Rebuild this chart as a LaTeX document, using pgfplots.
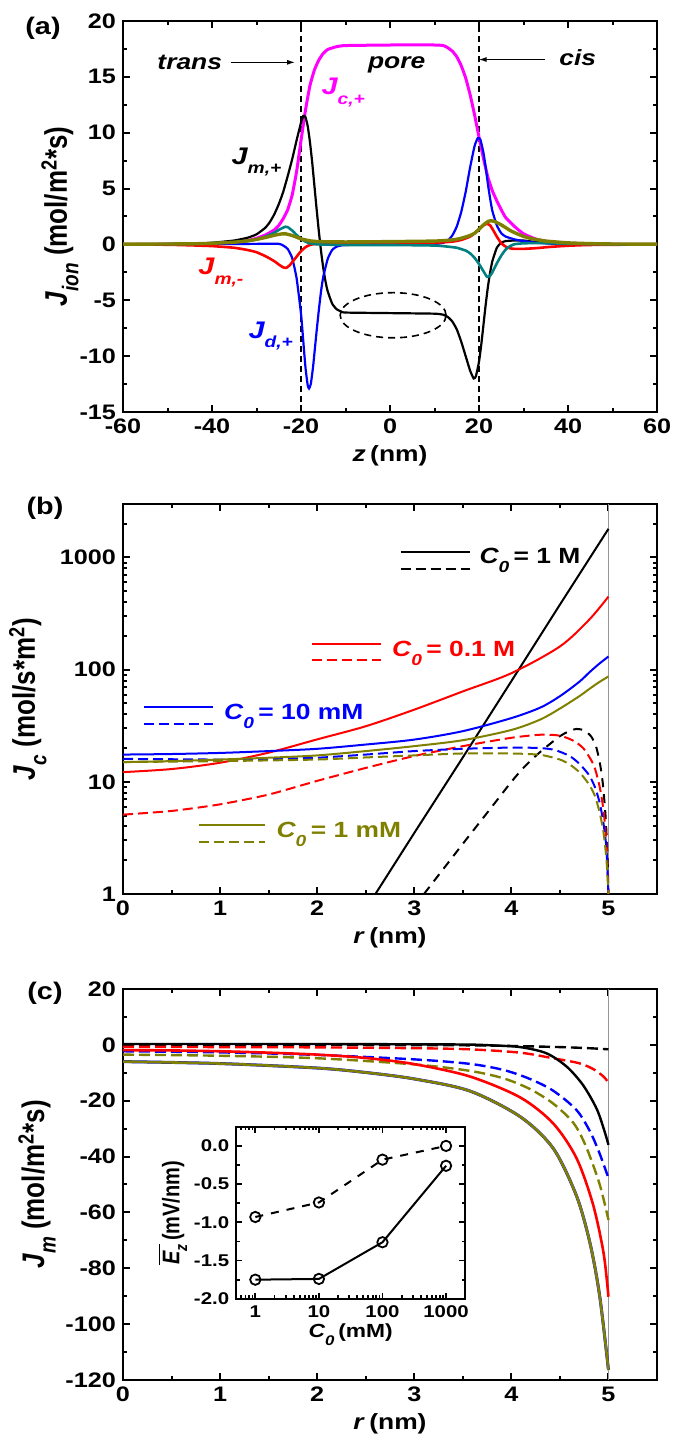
\documentclass[border=0pt]{standalone}
\usepackage{fontspec}
\setmainfont{Liberation Sans}
\usepackage{graphicx}
\usepackage{pgfplots}
\pgfplotsset{compat=1.18}
\usetikzlibrary{arrows.meta}

\definecolor{cmag}{RGB}{255,0,255}
\definecolor{cteal}{RGB}{0,128,128}
\definecolor{colive}{RGB}{128,128,0}
\definecolor{cgrey}{RGB}{150,150,150}

\newcommand{\s}[1]{\scalebox{1.2}[1]{#1}}
\newcommand{\tl}{\fontsize{10.5}{12}\selectfont\bfseries}
\newcommand{\lbl}{\fontsize{11}{13}\selectfont\bfseries}
\newcommand{\ylab}[1]{{\fontsize{13}{15}\selectfont\bfseries\scalebox{1}[1.2]{#1}}}
\newcommand{\Jl}[2]{\s{{\fontsize{12}{14}\selectfont\bfseries\itshape #1}\raisebox{-0.9ex}{\fontsize{8}{9}\selectfont\bfseries\itshape #2}}}
\newcommand{\Cz}[1]{\s{{\itshape C}\raisebox{-0.8ex}{\fontsize{8}{9}\selectfont\itshape 0}\,= #1}}

\pgfplotsset{
 panel/.style={
   scale only axis, width=267pt, anchor=south west,
   axis line style={line width=1.4pt},
   tick style={line width=1pt, black},
   tick align=inside,
   major tick length=3.5pt, minor tick length=2pt,
   tick label style={font=\tl},
   xlabel style={font=\lbl, at={(axis description cs:0.5,-0.113)}, anchor=center},
 }
}

\begin{document}
\begin{tikzpicture}
\path[use as bounding box] (0pt,0pt) rectangle (337.5pt,722pt);

% ---------------- (a) ----------------
\begin{axis}[panel, at={(61.5pt,516pt)}, height=195.5pt,
  xmin=-60, xmax=60, ymin=-15, ymax=20,
  xtick={-60,-40,-20,0,20,40,60}, xticklabels={\s{-60},\s{-40},\s{-20},\s{0},\s{20},\s{40},\s{60}},
  minor x tick num=1,
  ytick={-15,-10,-5,0,5,10,15,20}, yticklabels={\s{-15},\s{-10},\s{-5},\s{0},\s{5},\s{10},\s{15},\s{20}},
  minor y tick num=1,
  xlabel={\s{\textit{z}\,(nm)}},
  ylabel={\ylab{\textit{J}\raisebox{-0.7ex}{\fontsize{9.5}{10}\selectfont\itshape ion} (mol/m\textsuperscript{2}*s)}},
  ylabel style={at={(axis description cs:-0.118,0.5)}, anchor=center},
]
\addplot[black, line width=0.7pt, dash pattern=on 3pt off 2pt] coordinates {(-20,-15) (-20,20)};
\addplot[black, line width=0.7pt, dash pattern=on 3pt off 2pt] coordinates {(20,-15) (20,20)};
% J_c,+
\addplot[cmag, line width=1.5pt, smooth, tension=0.3] coordinates {
(-60,0) (-45,0.03) (-40,0.07) (-35,0.18) (-32,0.35) (-30,0.55) (-28,0.85) (-26,1.3) (-25,1.7) (-24,2.3) (-23,3.1) (-22,4.4) (-21,6.5) (-20,9.3) (-19,12.0) (-18,14.2) (-17,15.6) (-16,16.5) (-15,17.1) (-14,17.45) (-12,17.7) (-10,17.8) (0,17.85) (10,17.85) (12,17.8) (13,17.6) (14,17.3) (15,16.8) (16,16.0) (17,14.9) (18,13.4) (19,11.6) (20,9.6) (21,7.7) (22,6.0) (23,4.8) (24,3.9) (25,3.1) (26,2.4) (28,1.6) (30,0.95) (33,0.45) (36,0.22) (40,0.1) (50,0.02) (60,0)};
% J_m,+
\addplot[black, line width=1.1pt, smooth, tension=0.3] coordinates {
(-60,0) (-45,0.05) (-40,0.15) (-35,0.35) (-32,0.6) (-30,0.9) (-28,1.5) (-27,2.0) (-26,2.7) (-25,3.6) (-24,4.7) (-23,6.1) (-22,7.6) (-21,9.3) (-20,10.9) (-19.5,11.5) (-19,11.4) (-18.5,10.6) (-18,9.2) (-17.5,7.4) (-17,5.3) (-16.5,3.2) (-16,1.2) (-15.5,-0.6) (-15,-2.1) (-14.5,-3.3) (-14,-4.2) (-13,-5.3) (-12,-5.8) (-11,-6.0) (-10,-6.1) (0,-6.15) (10,-6.2) (12,-6.3) (13,-6.5) (14,-6.9) (15,-7.6) (16,-8.7) (17,-10.0) (18,-11.3) (18.8,-12.0) (19.3,-11.8) (20,-10.5) (20.5,-9.0) (21,-7.2) (21.5,-5.4) (22,-3.8) (22.5,-2.5) (23,-1.5) (24,-0.3) (25,0.15) (26,0.3) (28,0.35) (30,0.35) (33,0.2) (36,0.1) (40,0.03) (60,0)};
% J_d,+
\addplot[blue, line width=1.1pt, smooth, tension=0.3] coordinates {
(-60,0) (-40,0.02) (-30,0.05) (-25,0.05) (-24,-0.1) (-23,-0.4) (-22,-1.2) (-21,-3.0) (-20,-6.2) (-19.5,-8.6) (-19,-11.0) (-18.5,-12.6) (-18.2,-12.9) (-17.8,-12.5) (-17.3,-11) (-17,-9.8) (-16.5,-7.8) (-16,-5.9) (-15.5,-4.2) (-15,-2.9) (-14,-1.3) (-13,-0.5) (-12,-0.2) (-10,-0.05) (0,0) (10,0.05) (12,0.15) (13,0.35) (14,0.8) (15,1.6) (16,2.9) (17,4.7) (18,6.9) (19,8.8) (19.7,9.5) (20.3,9.4) (21,8.2) (21.5,6.9) (22,5.4) (22.5,4.1) (23,3.0) (24,1.7) (25,1.0) (26,0.7) (28,0.45) (30,0.3) (33,0.15) (36,0.07) (40,0.02) (60,0)};
% J_m,-
\addplot[red, line width=1.3pt, smooth, tension=0.3] coordinates {
(-60,0) (-50,-0.03) (-45,-0.08) (-40,-0.15) (-35,-0.3) (-32,-0.5) (-30,-0.7) (-28,-1.05) (-26,-1.5) (-25,-1.8) (-24,-2.05) (-23.3,-2.1) (-22.5,-1.85) (-22,-1.6) (-21,-1.1) (-20,-0.6) (-19,-0.25) (-18,-0.05) (-16,0.05) (0,0.1) (10,0.15) (14,0.25) (16,0.4) (18,0.7) (19,1.0) (20,1.35) (21,1.7) (21.8,1.85) (22.5,1.7) (23,1.4) (24,0.7) (25,0.1) (26,-0.2) (27,-0.35) (28,-0.4) (30,-0.4) (33,-0.33) (36,-0.22) (40,-0.12) (45,-0.05) (60,0)};
% teal
\addplot[cteal, line width=1.3pt, smooth, tension=0.3] coordinates {
(-60,0) (-45,0.05) (-40,0.1) (-35,0.2) (-32,0.3) (-30,0.45) (-28,0.7) (-26,1.05) (-25,1.3) (-24,1.5) (-23.5,1.58) (-23,1.55) (-22,1.25) (-21,0.85) (-20,0.5) (-19,0.25) (-18,0.1) (-16,0.0) (-10,-0.05) (0,-0.05) (10,-0.1) (13,-0.2) (15,-0.3) (17,-0.55) (18,-0.8) (19,-1.2) (20,-1.75) (21,-2.4) (21.8,-2.9) (22.5,-2.8) (23,-2.5) (24,-1.7) (25,-1.0) (26,-0.45) (27,-0.15) (28,0.02) (30,0.1) (33,0.12) (36,0.1) (40,0.06) (50,0.01) (60,0)};
% olive
\addplot[colive, line width=1.7pt, smooth, tension=0.3] coordinates {
(-60,0.02) (-45,0.05) (-40,0.1) (-35,0.2) (-32,0.32) (-30,0.45) (-28,0.62) (-26,0.82) (-24.5,0.93) (-23.5,0.95) (-22,0.8) (-21,0.65) (-20,0.5) (-18,0.32) (-16,0.25) (-10,0.22) (0,0.25) (10,0.3) (14,0.4) (16,0.55) (18,0.8) (19,1.0) (20,1.35) (21,1.75) (22,2.05) (22.7,2.12) (23.5,2.05) (24,1.95) (25,1.75) (26,1.5) (27,1.25) (28,1.05) (30,0.72) (32,0.5) (35,0.3) (40,0.14) (45,0.07) (50,0.04) (60,0.02)};
\draw[black, line width=0.8pt, dash pattern=on 3.5pt off 2.5pt] (axis cs:0.7,-6.34) ellipse [x radius=11.9, y radius=2.02];
\draw[black, line width=0.7pt, -{Latex[length=4pt,width=2.5pt]}] (axis cs:-35.8,16.3) -- (axis cs:-21.3,16.3);
\draw[black, line width=0.7pt, -{Latex[length=4pt,width=2.5pt]}] (axis cs:34.9,16.55) -- (axis cs:19.9,16.55);
\node[font=\fontsize{11}{13}\selectfont\bfseries\itshape] at (axis cs:-45,16.3) {\s{trans}};
\node[font=\fontsize{11}{13}\selectfont\bfseries\itshape] at (axis cs:1.5,16.1) {\s{pore}};
\node[font=\fontsize{11}{13}\selectfont\bfseries\itshape] at (axis cs:42.2,16.7) {\s{cis}};
\node[text=cmag] at (axis cs:-10.5,13.6) {\Jl{J}{c,+}};
\node[text=black] at (axis cs:-30,7.4) {\Jl{J}{m,+}};
\node[text=red] at (axis cs:-38,-2.5) {\Jl{J}{m,-}};
\node[text=blue] at (axis cs:-26.8,-8.2) {\Jl{J}{d,+}};
\end{axis}

% ---------------- (b) ----------------
\begin{axis}[panel, at={(61.5pt,275pt)}, height=195pt, ymode=log,
  xmin=0, xmax=5.5, ymin=1, ymax=3000,
  xtick={0,1,2,3,4,5}, xticklabels={\s{0},\s{1},\s{2},\s{3},\s{4},\s{5}},
  minor xtick={0.5,1.5,2.5,3.5,4.5,5.5},
  ytick={1,10,100,1000}, yticklabels={\s{1},\s{10},\s{100},\s{1000}},
  minor ytick={2,3,4,5,6,7,8,9,20,30,40,50,60,70,80,90,200,300,400,500,600,700,800,900,2000,3000},
  xlabel={\s{\textit{r}\,(nm)}},
  ylabel={\ylab{\textit{J}\raisebox{-0.7ex}{\fontsize{9.5}{10}\selectfont\itshape c} (mol/s*m\textsuperscript{2})}},
  ylabel style={at={(axis description cs:-0.178,0.5)}, anchor=center},
]
\addplot[cgrey, line width=0.9pt] coordinates {(5,1) (5,3000)};
\addplot[black, line width=1pt] coordinates {(2.6,1) (3.0,3.5) (3.5,16.5) (4.0,79) (4.5,380) (5.0,1800)};
\addplot[black, line width=1pt, smooth, tension=0.4, dash pattern=on 4.5pt off 3.5pt] coordinates {(3.1,1) (3.5,2.8) (3.8,6.0) (4.0,10) (4.12,13.2) (4.25,17) (4.36,20.5) (4.5,25.5) (4.6,28.5) (4.67,29.6) (4.75,28.8) (4.82,25.5) (4.87,21) (4.91,15) (4.94,10) (4.97,5) (4.99,2.2) (5.0,1)};
\addplot[red, line width=1pt, smooth, tension=0.5] coordinates {(0,12.2) (0.5,13.0) (1,14.8) (1.5,18.2) (2,23.9) (2.5,31.3) (3,44) (3.5,64) (4,93) (4.5,161) (4.8,278) (5,448)};
\addplot[red, line width=1pt, smooth, tension=0.4, dash pattern=on 5pt off 2.5pt] coordinates {(0,5.1) (0.5,5.5) (1,6.3) (1.5,7.7) (2,10.2) (2.5,13.3) (3,17) (3.5,20.8) (4,24.7) (4.3,26.3) (4.5,25.8) (4.65,23) (4.75,19.5) (4.85,14) (4.91,9) (4.95,5.5) (4.98,2.8) (5,1)};
\addplot[blue, line width=1pt, smooth, tension=0.5] coordinates {(0,17.5) (0.5,17.7) (1,18.1) (1.5,18.8) (2,19.7) (2.5,21.5) (3,23.8) (3.5,28.3) (4,37) (4.3,46) (4.5,58) (4.7,78) (4.8,94) (4.9,112) (5,131)};
\addplot[blue, line width=1pt, smooth, tension=0.4, dash pattern=on 5pt off 2.5pt] coordinates {(0,16) (0.5,15.9) (1,15.8) (1.5,16.0) (2,16.4) (2.5,17.5) (3,18.8) (3.5,19.7) (4,20.2) (4.3,20) (4.45,19.2) (4.6,17) (4.7,14.5) (4.8,11.5) (4.86,9) (4.91,6.5) (4.95,4.2) (4.98,2.5) (5,1)};
\addplot[colive, line width=1pt, smooth, tension=0.5] coordinates {(0,15) (0.5,15.3) (1,15.8) (1.5,16.4) (2,17.2) (2.5,18.8) (3,20.8) (3.5,23.5) (4,29) (4.3,36) (4.5,45) (4.7,58) (4.8,67) (4.9,77) (5,87)};
\addplot[colive, line width=1pt, smooth, tension=0.4, dash pattern=on 5pt off 2.5pt] coordinates {(0,15) (1,15.3) (2,15.8) (2.5,16.5) (3,17.2) (3.5,17.9) (4,17.9) (4.3,17.4) (4.5,15.8) (4.6,14.3) (4.7,12.2) (4.8,9.5) (4.86,7.5) (4.91,5.3) (4.95,3.5) (4.98,2.0) (5,1)};
% legend-like keys
\addplot[black, line width=1pt] coordinates {(2.86,1122) (3.57,1122)};
\addplot[black, line width=1pt, dash pattern=on 5pt off 2.5pt] coordinates {(2.86,798) (3.57,798)};
\node[anchor=west, font=\lbl] at (axis cs:3.6,946) {\Cz{1 M}};
\addplot[red, line width=1pt] coordinates {(1.95,170) (2.66,170)};
\addplot[red, line width=1pt, dash pattern=on 5pt off 2.5pt] coordinates {(1.95,121) (2.66,121)};
\node[anchor=west, font=\lbl, text=red] at (axis cs:2.70,140) {\Cz{0.1 M}};
\addplot[blue, line width=1pt] coordinates {(0.22,46.2) (0.93,46.2)};
\addplot[blue, line width=1pt, dash pattern=on 5pt off 2.5pt] coordinates {(0.22,32.8) (0.93,32.8)};
\node[anchor=west, font=\lbl, text=blue] at (axis cs:0.97,38.4) {\Cz{10 mM}};
\addplot[colive, line width=1pt] coordinates {(0.78,4.1) (1.46,4.1)};
\addplot[colive, line width=1pt, dash pattern=on 5pt off 2.5pt] coordinates {(0.78,2.92) (1.46,2.92)};
\node[anchor=west, font=\lbl, text=colive] at (axis cs:1.51,3.41) {\Cz{1 mM}};
\end{axis}

% ---------------- (c) ----------------
\begin{axis}[panel, at={(61.5pt,32pt)}, height=195.5pt,
  xmin=0, xmax=5.5, ymin=-120, ymax=20,
  xtick={0,1,2,3,4,5}, xticklabels={\s{0},\s{1},\s{2},\s{3},\s{4},\s{5}},
  minor xtick={0.5,1.5,2.5,3.5,4.5,5.5},
  ytick={-120,-100,-80,-60,-40,-20,0,20}, yticklabels={\s{-120},\s{-100},\s{-80},\s{-60},\s{-40},\s{-20},\s{0},\s{20}},
  minor y tick num=1,
  xlabel={\s{\textit{r}\,(nm)}},
  ylabel={\ylab{\textit{J}\raisebox{-0.7ex}{\fontsize{9.5}{10}\selectfont\itshape m} (mol/m\textsuperscript{2}*s)}},
  ylabel style={at={(axis description cs:-0.161,0.5)}, anchor=center},
]
\addplot[cgrey, line width=0.9pt] coordinates {(5,-120) (5,20)};
\addplot[black, line width=1.2pt, smooth, dash pattern=on 5.5pt off 2.5pt] coordinates {(0,0) (2,-0.05) (3,-0.1) (3.5,-0.15) (4,-0.4) (4.5,-0.8) (4.8,-1.2) (5,-1.6)};
\addplot[red, line width=1.2pt, smooth, dash pattern=on 5.5pt off 2.5pt] coordinates {(0,-0.7) (1,-0.8) (2,-0.9) (3,-1.2) (3.57,-1.6) (4.09,-2.8) (4.43,-4.8) (4.7,-6.6) (4.85,-8.8) (4.95,-11.4) (5,-13.5)};
\addplot[blue, line width=1.2pt, smooth, dash pattern=on 5.5pt off 2.5pt] coordinates {(0,-2.3) (1,-2.7) (2,-3.6) (3,-5.2) (3.57,-6.8) (3.92,-9) (4.19,-12.2) (4.43,-16.4) (4.67,-23.3) (4.81,-31) (4.91,-39) (5,-47.7)};
\addplot[colive, line width=1.2pt, smooth, dash pattern=on 5.5pt off 2.5pt] coordinates {(0,-3.5) (1,-3.9) (2,-4.8) (3,-7) (3.57,-9.3) (3.92,-12) (4.19,-15.8) (4.43,-21) (4.64,-28) (4.77,-36.5) (4.91,-50) (5,-62.7)};
\addplot[black, line width=1.2pt, smooth] coordinates {(0,0.3) (1,0.3) (2,0.3) (3,0.2) (3.57,0.1) (3.8,-0.2) (4.09,-0.8) (4.36,-3) (4.57,-7.8) (4.74,-14.5) (4.88,-23) (4.96,-31) (5,-35.8)};
\addplot[red, line width=1.3pt, smooth] coordinates {(0,-1.9) (0.5,-2.0) (1,-2.3) (1.5,-2.8) (2,-3.5) (2.5,-4.7) (3,-6.9) (3.57,-11.3) (4.09,-18.8) (4.43,-28.1) (4.67,-40.5) (4.84,-57) (4.95,-74.6) (5,-90.2)};
\addplot[blue, line width=1.5pt, smooth] coordinates {(0,-6.0) (1,-6.7) (2,-8.3) (2.5,-9.9) (3,-12.2) (3.57,-16.5) (4.09,-25.7) (4.43,-37) (4.67,-54) (4.81,-71) (4.91,-90) (5,-116.4)};
\addplot[colive, line width=1.3pt, smooth] coordinates {(0,-6.0) (1,-6.7) (2,-8.3) (2.5,-9.9) (3,-12.2) (3.57,-16.5) (4.09,-25.7) (4.43,-37) (4.67,-54) (4.81,-71) (4.91,-90) (5,-116.4)};
\end{axis}

% ---------------- inset ----------------
\begin{axis}[scale only axis, anchor=south west, at={(118.1pt,72.6pt)}, width=114.5pt, height=86pt,
  axis background/.style={fill=white},
  axis line style={line width=1.2pt},
  tick style={line width=0.9pt, black}, tick align=inside,
  major tick length=3pt, minor tick length=1.7pt,
  xmode=log, xmin=0.5, xmax=2000, ymin=-2, ymax=0.25,
  xtick={1,10,100,1000}, xticklabels={\s{1},\s{10},\s{100},\s{1000}},
  minor xtick={0.6,0.7,0.8,0.9,2,3,4,5,6,7,8,9,20,30,40,50,60,70,80,90,200,300,400,500,600,700,800,900,2000},
  ytick={-2,-1.5,-1,-0.5,0}, yticklabels={\s{-2.0},\s{-1.5},\s{-1.0},\s{-0.5},\s{0.0}},
  minor y tick num=1,
  tick label style={font=\fontsize{8.5}{10}\selectfont\bfseries},
  xlabel={\s{{\itshape C}\raisebox{-0.8ex}{\fontsize{7}{8}\selectfont\itshape 0}\,(mM)}},
  xlabel style={font=\fontsize{9.5}{11}\selectfont\bfseries, at={(axis description cs:0.5,-0.21)}, anchor=center},
  ylabel={{\fontsize{10}{12}\selectfont\bfseries\scalebox{1}[1.2]{$\overline{\hbox{\itshape E\raisebox{-0.6ex}{\fontsize{7}{8}\selectfont z}}}$\,(mV/nm)}}},
  ylabel style={at={(axis description cs:-0.278,0.5)}, anchor=center},
]
\addplot[black, line width=1pt, dash pattern=on 4pt off 4pt, mark=o, mark size=2.6pt, mark options={solid, line width=0.9pt, fill=white}] coordinates {(1,-0.93) (10,-0.74) (100,-0.18) (1000,0.0)};
\addplot[black, line width=1pt, mark=o, mark size=2.6pt, mark options={solid, line width=0.9pt, fill=white}] coordinates {(1,-1.75) (10,-1.74) (100,-1.26) (1000,-0.26)};
\end{axis}

\node[font=\fontsize{12}{14}\selectfont\bfseries] at (21.5pt,708pt) {\s{(a)}};
\node[font=\fontsize{12}{14}\selectfont\bfseries] at (22.5pt,468pt) {\s{(b)}};
\node[font=\fontsize{12}{14}\selectfont\bfseries] at (22.5pt,225.5pt) {\s{(c)}};
\end{tikzpicture}
\end{document}
